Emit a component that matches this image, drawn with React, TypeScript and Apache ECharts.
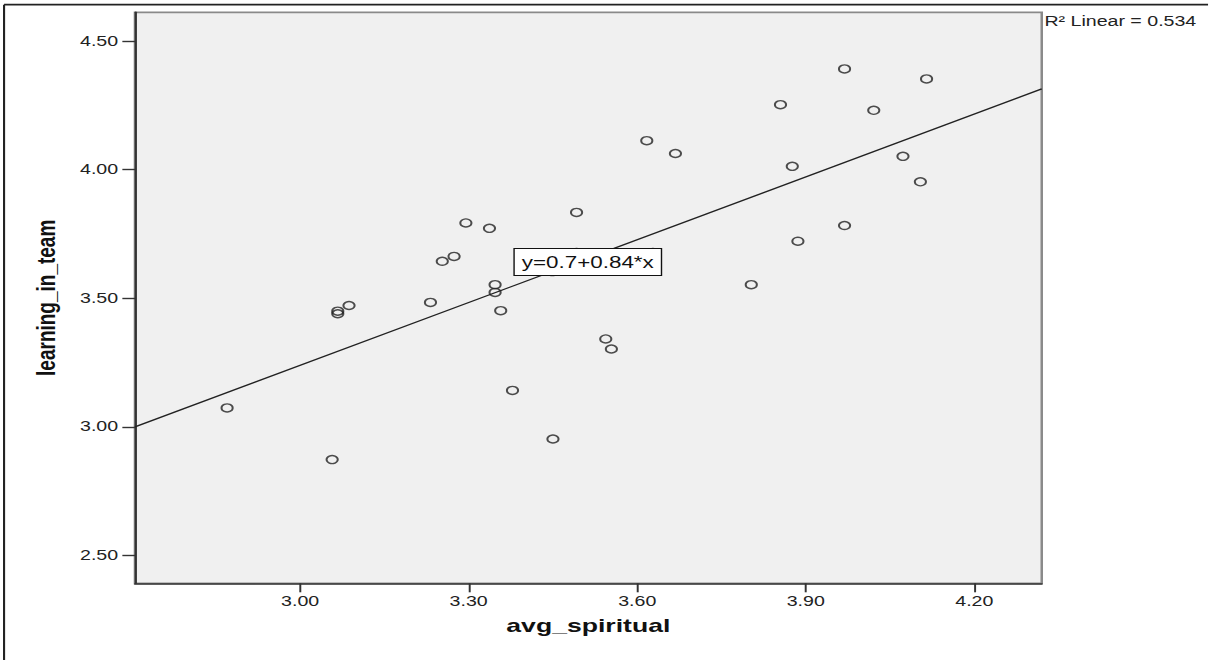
import React, { useEffect, useRef } from "react";
import * as echarts from "echarts";

// avg_spiritual (x) and learning_in_team (y)
const avgSpiritual = [
  2.87, 3.057, 3.067, 3.067, 3.087, 3.232, 3.253, 3.274, 3.295, 3.337, 3.347,
  3.347, 3.357, 3.378, 3.45, 3.449, 3.492, 3.492, 3.628, 3.617, 3.668, 3.544,
  3.554, 3.803, 3.855, 3.876, 3.886, 3.969, 3.969, 4.021, 4.073, 4.104, 4.115,
];
const learningInTeam = [
  3.074, 2.873, 3.45, 3.44, 3.472, 3.484, 3.644, 3.663, 3.793, 3.772, 3.553,
  3.523, 3.452, 3.142, 2.953, 3.604, 3.678, 3.834, 3.678, 4.113, 4.063, 3.342,
  3.303, 3.553, 4.253, 4.013, 3.722, 4.392, 3.783, 4.231, 4.052, 3.953, 4.353,
];

const xTicks = [3.0, 3.3, 3.6, 3.9, 4.2];
const yTicks = [2.5, 3.0, 3.5, 4.0, 4.5];
const xRange = [2.706, 4.32];
const yRange = [2.392, 4.612];

// fit line end points (read at the plot edges)
const fitX = [2.706, 4.32];
const fitY = [3.0, 4.314];
const fitEquation = "y=0.7+0.84*x";
const rSquaredText = "R\u00B2 Linear = 0.534";
const equationAnchor = [3.512, 3.6415];

const STRETCH = 1.4;
const W = 863;
const H = 660;

export default function App() {
  const ref = useRef<HTMLDivElement>(null);

  useEffect(() => {
    if (!ref.current) return;
    const chart = echarts.init(ref.current, null, { renderer: "svg" });
    const font = "'Liberation Sans', Arial, sans-serif";
    const points = avgSpiritual.map((x, i) => [x, learningInTeam[i]]);
    const fitData = fitX.map((x, i) => [x, fitY[i]]);

    chart.setOption({
      animation: false,
      backgroundColor: "#ffffff",
      grid: {
        left: 96.4,
        right: 118.9,
        top: 12.3,
        bottom: 76.7,
        show: true,
        backgroundColor: "#f0f0f0",
        borderColor: "#8a8a8a",
        borderWidth: 1.8,
      },
      xAxis: {
        type: "value",
        min: xRange[0],
        max: xRange[1],
        name: "avg_spiritual",
        nameLocation: "middle",
        nameGap: 33,
        nameTextStyle: {
          fontFamily: font,
          fontWeight: "bold",
          fontSize: 19,
          color: "#111",
        },
        axisLine: { show: true, onZero: false, lineStyle: { color: "#333", width: 1.6 } },
        axisTick: {
          show: true,
          length: 9,
          customValues: xTicks,
          lineStyle: { color: "#333", width: 1.4 },
        },
        axisLabel: {
          customValues: xTicks,
          formatter: (v: number) => v.toFixed(2),
          fontFamily: font,
          fontSize: 14,
          color: "#222",
          margin: 11,
        },
        splitLine: { show: false },
      },
      yAxis: {
        type: "value",
        min: yRange[0],
        max: yRange[1],
        name: "learning_in_team",
        nameLocation: "middle",
        nameRotate: 90,
        nameGap: 54,
        nameTextStyle: {
          fontFamily: font,
          fontWeight: "bold",
          fontSize: 19,
          color: "#111",
        },
        axisLine: { show: true, onZero: false, lineStyle: { color: "#333", width: 1.6 } },
        axisTick: {
          show: true,
          length: 9,
          customValues: yTicks,
          lineStyle: { color: "#333", width: 1.4 },
        },
        axisLabel: {
          customValues: yTicks,
          formatter: (v: number) => v.toFixed(2),
          fontFamily: font,
          fontSize: 14,
          color: "#222",
          margin: 12,
        },
        splitLine: { show: false },
      },
      graphic: [
        {
          type: "line",
          shape: { x1: 2.9, y1: 4.7, x2: 2.9, y2: H },
          style: { stroke: "#222", lineWidth: 1.5 },
        },
        {
          type: "line",
          shape: { x1: 2.9, y1: 4.7, x2: W, y2: 4.7 },
          style: { stroke: "#222", lineWidth: 1.8 },
        },
        {
          type: "text",
          x: 746,
          y: 14,
          style: {
            text: rSquaredText,
            fontFamily: font,
            fontSize: 14,
            fill: "#222",
            verticalAlign: "top",
            textVerticalAlign: "top",
          },
        },
      ],
      series: [
        {
          type: "scatter",
          data: points,
          z: 2,
          symbol: "circle",
          symbolSize: 8,
          silent: true,
          itemStyle: {
            color: "rgba(0,0,0,0)",
            borderColor: "#222",
            borderWidth: 1.4,
          },
        },
        {
          type: "line",
          data: fitData,
          z: 3,
          symbol: "none",
          silent: true,
          lineStyle: { color: "#222", width: 1.3 },
          markPoint: {
            symbol: "rect",
            symbolSize: 1,
            silent: true,
            itemStyle: { color: "rgba(0,0,0,0)" },
            label: {
              show: true,
              position: "inside",
              formatter: fitEquation,
              fontFamily: font,
              fontSize: 16,
              lineHeight: 19,
              color: "#111",
              backgroundColor: "#ffffff",
              borderColor: "#111",
              borderWidth: 1,
              padding: [4, 5, 3, 5],
            },
            data: [{ coord: equationAnchor }],
          },
        },
      ],
    });

    return () => chart.dispose();
  }, []);

  return (
    <div
      ref={ref}
      style={{
        position: "absolute",
        left: 0,
        top: 0,
        width: W,
        height: H,
        transform: `scaleX(${STRETCH})`,
        transformOrigin: "0 0",
      }}
    />
  );
}
